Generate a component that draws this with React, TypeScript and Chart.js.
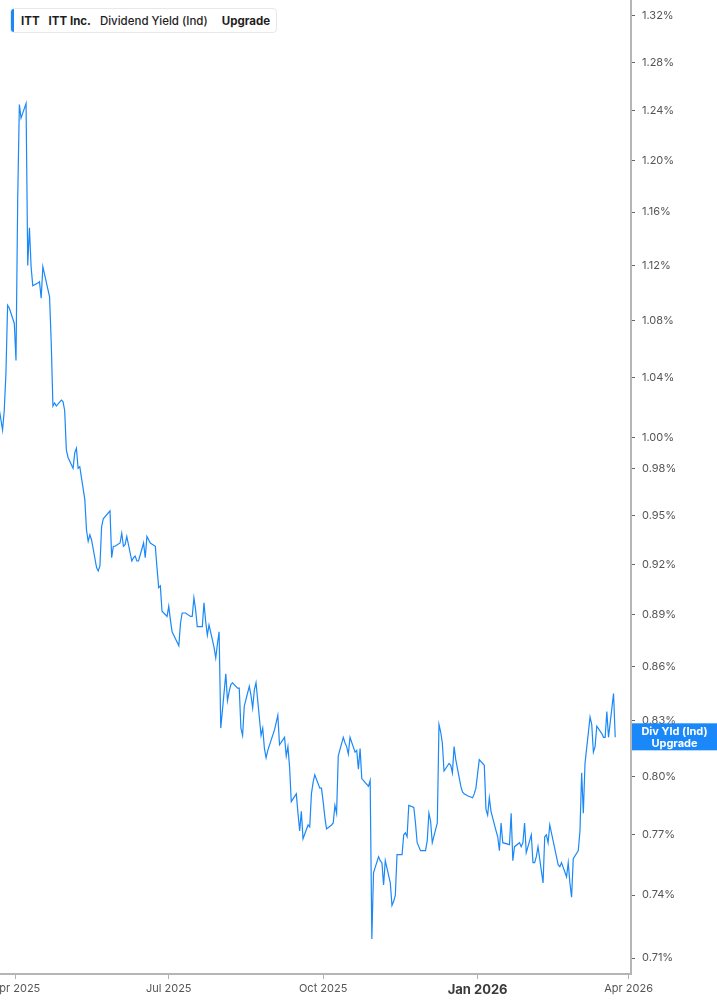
import { useEffect, useRef } from 'react';
import { Chart, registerables } from 'chart.js';

Chart.register(...registerables);

// ITT dividend yield (%), one value per trading day from 21 Mar 2025
const springYield = [
  1.026, 1.005, 1.018, 1.043, 1.091, 1.089, 1.078, 1.052, 1.168, 1.245,
  1.234, 1.246, 1.120, 1.148, 1.119, 1.105, 1.107, 1.108, 1.096, 1.119,
  1.097, 1.064, 1.021, 1.023, 1.021, 1.025, 1.024, 1.018, 0.992,
];
const summerYield = [
  0.987, 0.980, 0.990, 0.993, 0.980, 0.981, 0.960, 0.941, 0.934, 0.938,
  0.935, 0.918, 0.916, 0.919, 0.943, 0.948, 0.953, 0.924, 0.931, 0.931,
  0.933, 0.939, 0.931, 0.932, 0.937, 0.922, 0.924, 0.925, 0.922, 0.922,
  0.933, 0.924, 0.937, 0.933, 0.931, 0.918, 0.906, 0.907,
];
const lateSummerYield = [
  0.892, 0.889, 0.895, 0.887, 0.880, 0.872, 0.885, 0.891, 0.891, 0.891,
  0.889, 0.889, 0.900, 0.893, 0.883, 0.883, 0.897, 0.886, 0.878, 0.884,
  0.871, 0.865, 0.873, 0.880, 0.826, 0.856, 0.841, 0.846, 0.850, 0.851,
  0.848, 0.848,
];
const autumnYield = [
  0.826, 0.822, 0.838, 0.849, 0.844, 0.837, 0.847, 0.851, 0.822, 0.826,
  0.815, 0.810, 0.814, 0.825, 0.829, 0.833, 0.817, 0.821, 0.811, 0.816,
  0.805, 0.787, 0.791, 0.781, 0.772, 0.782, 0.768, 0.775, 0.774, 0.791,
  0.797, 0.801, 0.794, 0.794, 0.787, 0.779, 0.773, 0.775, 0.776, 0.785,
  0.781, 0.811, 0.821, 0.818, 0.816, 0.812, 0.821, 0.813, 0.814, 0.804,
  0.815, 0.799, 0.796, 0.795, 0.798,
];
const winterYield = [
  0.719, 0.751, 0.759, 0.757, 0.756, 0.745, 0.757, 0.746, 0.735, 0.737,
  0.740, 0.760, 0.760, 0.770, 0.771, 0.769, 0.785, 0.784, 0.776, 0.766,
  0.762, 0.762, 0.767, 0.781, 0.777, 0.766, 0.776, 0.828, 0.824, 0.818,
  0.803, 0.807, 0.806, 0.802, 0.816, 0.809, 0.795, 0.792, 0.791, 0.790,
  0.789, 0.791, 0.794, 0.809, 0.806, 0.783, 0.780, 0.789, 0.782, 0.772,
  0.769, 0.762, 0.776,
];
const earlyYearYield = [
  0.766, 0.765, 0.781, 0.757, 0.764, 0.766, 0.764, 0.766, 0.776, 0.761,
  0.770, 0.756, 0.756, 0.759, 0.764, 0.746, 0.769, 0.770, 0.766, 0.775,
  0.759, 0.755, 0.754, 0.756, 0.749, 0.756, 0.746, 0.739, 0.758, 0.762,
  0.772, 0.802, 0.781, 0.807, 0.832, 0.828, 0.813, 0.816, 0.827, 0.823,
  0.821, 0.821, 0.835, 0.821, 0.845, 0.821,
];
const divYield = [
  ...springYield, ...summerYield, ...lateSummerYield,
  ...autumnYield, ...winterYield, ...earlyYearYield,
];

const firstDay = '2025-03-21';
const marketHolidays = [
  '2025-04-18', '2025-05-26', '2025-06-19', '2025-07-04', '2025-09-01',
  '2025-11-27', '2025-12-25', '2026-01-01', '2026-01-19', '2026-02-16',
];

const xTickDates = ['2025-04-01', '2025-07-01', '2025-10-01', '2026-01-01', '2026-04-01'];
const xTickLabels = ['Apr 2025', 'Jul 2025', 'Oct 2025', 'Jan 2026', 'Apr 2026'];
const yTicks = [
  1.32, 1.28, 1.24, 1.2, 1.16, 1.12, 1.08, 1.04, 1.0, 0.98,
  0.95, 0.92, 0.89, 0.86, 0.83, 0.8, 0.77, 0.74, 0.71,
];

const BLUE = '#1a88f8';
const DAY = 86400000;
const base = Date.UTC(2025, 3, 1);
const toDay = (iso: string) => (Date.parse(iso + 'T00:00:00Z') - base) / DAY;

function tradingDays(count: number) {
  const out: number[] = [];
  let t = Date.parse(firstDay + 'T00:00:00Z');
  while (out.length < count) {
    const d = new Date(t);
    const wd = d.getUTCDay();
    const iso = d.toISOString().slice(0, 10);
    if (wd !== 0 && wd !== 6 && !marketHolidays.includes(iso)) out.push((t - base) / DAY);
    t += DAY;
  }
  return out;
}

const xTickDays = xTickDates.map(toDay);
const boldTick = toDay('2026-01-01');

const lastValueTag = {
  id: 'lastValueTag',
  afterDraw(chart: Chart) {
    const { ctx, chartArea, scales } = chart;
    const y = scales.y.getPixelForValue(divYield[divYield.length - 1]);
    const x = chartArea.right + 1;
    const w = chart.width - x;
    ctx.save();
    ctx.fillStyle = BLUE;
    ctx.fillRect(x, y - 14, w, 27);
    ctx.fillStyle = '#fff';
    ctx.font = 'bold 11px Inter';
    ctx.textAlign = 'center';
    ctx.textBaseline = 'middle';
    ctx.fillText('Div Yld (Ind)', x + w / 2, y - 6);
    ctx.fillText('Upgrade', x + w / 2, y + 6);
    ctx.restore();
  },
};

export default function App() {
  const canvasRef = useRef<HTMLCanvasElement>(null);
  const chartRef = useRef<Chart | null>(null);

  useEffect(() => {
    if (!canvasRef.current) return;
    const ctx = canvasRef.current.getContext('2d');
    if (!ctx) return;
    if (chartRef.current) chartRef.current.destroy();

    const days = tradingDays(divYield.length);

    chartRef.current = new Chart(ctx, {
      type: 'line',
      data: {
        datasets: [{
          data: divYield.map((v, i) => ({ x: days[i], y: v })),
          borderColor: BLUE,
          borderWidth: 1.2,
          pointRadius: 0,
          tension: 0,
          fill: false,
        }],
      },
      options: {
        responsive: true,
        maintainAspectRatio: false,
        animation: false,
        layout: { padding: { left: 30, top: 0, right: 0, bottom: 0 } },
        plugins: {
          legend: { display: false },
          tooltip: { enabled: false },
        },
        scales: {
          x: {
            type: 'linear',
            min: -9.53,
            max: 366.4,
            afterBuildTicks: (scale) => {
              scale.ticks = xTickDays.map((v) => ({ value: v }));
            },
            afterFit: (scale) => {
              scale.height = 31;
              scale.paddingLeft = 0;
              scale.paddingRight = 0;
            },
            grid: { drawOnChartArea: false, tickLength: 5, color: '#b0b0b0' },
            border: { color: '#b5b5b5', width: 2 },
            ticks: {
              autoSkip: false,
              maxRotation: 0,
              padding: 3,
              callback: (v) => xTickLabels[xTickDays.indexOf(Number(v))] ?? '',
              color: (c: any) => (c.tick && c.tick.value === boldTick ? '#3a3a3a' : '#555'),
              font: (c: any) => (c.tick && c.tick.value === boldTick
                ? { family: 'Inter', size: 13, weight: 'bold' }
                : { family: 'Inter', size: 11 }),
            },
          },
          y: {
            type: 'logarithmic',
            position: 'right',
            min: 0.70259,
            max: 1.33371,
            afterBuildTicks: (scale) => {
              scale.ticks = yTicks.map((v) => ({ value: v }));
            },
            afterFit: (scale) => {
              scale.width = 86;
              scale.paddingTop = 0;
              scale.paddingBottom = 0;
            },
            grid: { drawOnChartArea: false, tickLength: 4, color: '#666' },
            border: { color: '#b5b5b5', width: 2 },
            ticks: {
              autoSkip: false,
              padding: 7,
              color: '#555',
              font: { family: 'Inter', size: 11 },
              callback: (v) => Number(v).toFixed(2) + '%',
            },
          },
        },
      },
      plugins: [lastValueTag],
    });

    return () => {
      if (chartRef.current) {
        chartRef.current.destroy();
        chartRef.current = null;
      }
    };
  }, []);

  return (
    <>
      <div style={{ position: 'fixed', left: -30, top: 0, width: 747, height: 1005 }}>
        <canvas ref={canvasRef} />
      </div>
      <div
        style={{
          position: 'fixed', left: 10, top: 8, height: 25,
          display: 'flex', alignItems: 'center',
          background: '#fff', border: '1px solid #e8e8e8', borderRadius: 4,
          paddingRight: 6, fontFamily: 'Inter', fontSize: 11.5, color: '#1e1e1e',
          boxSizing: 'border-box',
        }}
      >
        <span style={{ width: 3, alignSelf: 'stretch', background: BLUE, borderRadius: '3px 0 0 3px' }} />
        <span style={{ marginLeft: 7, fontWeight: 700 }}>ITT</span>
        <span style={{ marginLeft: 9, fontWeight: 700 }}>ITT Inc.</span>
        <span style={{ marginLeft: 9, fontWeight: 500 }}>Dividend Yield (Ind)</span>
        <span style={{ marginLeft: 14, fontWeight: 700 }}>Upgrade</span>
      </div>
    </>
  );
}
